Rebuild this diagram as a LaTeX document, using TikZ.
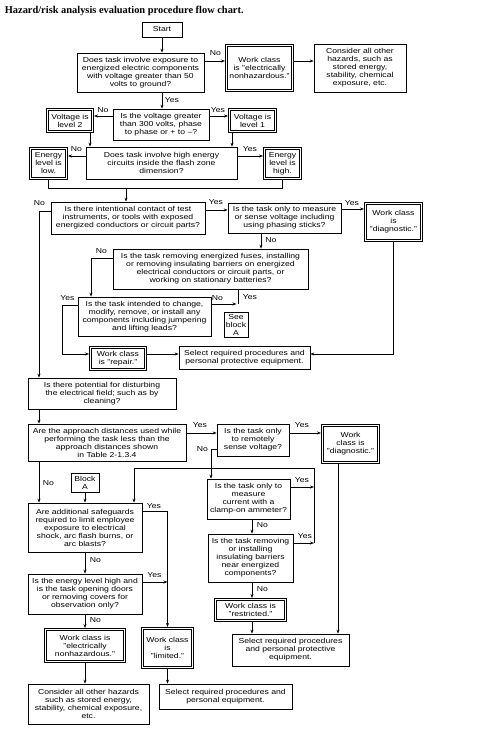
\documentclass[tikz,border=0pt]{standalone}
\usepackage{fontspec}
\setmainfont[FakeStretch=1.2]{Liberation Sans}
\newfontfamily\titlefont{Liberation Serif}
\usetikzlibrary{arrows.meta}

\begin{document}
\begin{tikzpicture}[x=1pt,y=-1pt,>={Stealth[length=4pt,width=3pt]},line width=0.7pt,
  box/.style={draw,inner sep=1pt,align=center,font=\fontsize{7.2}{8}\selectfont},
  dbox/.style={box,double,double distance=1.2pt,outer sep=1.3pt},
  lab/.style={inner sep=0pt,font=\fontsize{7.2}{8}\selectfont}]
\useasboundingbox (0,0) rectangle (491,756);
\node[anchor=west,inner sep=0pt,font={\titlefont\bfseries\fontsize{10.4}{12}\selectfont}] (title) at (4.5,11) {Hazard/risk analysis evaluation procedure flow chart.};

\node[box,minimum width=40,minimum height=15] (start) at (162,29.5) {Start};
\node[box,minimum width=127,minimum height=39] (q1) at (140.5,72.5) {Does task involve exposure to\\energized electric components\\with voltage greater than 50\\volts to ground?};
\node[dbox,minimum width=66.4,minimum height=45.4] (wc1) at (259.5,68) {Work class\\is "electrically\\nonhazardous."};
\node[box,minimum width=92,minimum height=48] (con1) at (360,68) {Consider all other\\hazards, such as\\stored energy,\\stability, chemical\\exposure, etc.};
\node[box,minimum width=96,minimum height=31] (q2) at (161,124.5) {Is the voltage greater\\than 300 volts, phase\\to phase or + to --?};
\node[dbox,minimum width=45.4,minimum height=22.4] (vl2) at (70,120.5) {Voltage is\\level 2};
\node[dbox,minimum width=46.4,minimum height=22.4] (vl1) at (252.5,120.5) {Voltage is\\level 1};
\node[box,minimum width=151,minimum height=32] (q3) at (161.5,163) {Does task involve high energy\\circuits inside the flash zone\\dimension?};
\node[dbox,minimum width=36.4,minimum height=30.4] (el) at (48.5,163.5) {Energy\\level is\\low.};
\node[dbox,minimum width=36.4,minimum height=30.4] (eh) at (282.5,163.5) {Energy\\level is\\high.};
\node[box,minimum width=154,minimum height=32] (q4) at (128,218) {Is there intentional contact of test\\instruments, or tools with exposed\\energized conductors or circuit parts?};
\node[box,minimum width=113,minimum height=30] (q4b) at (284.5,218) {Is the task only to measure\\or sense voltage including\\using phasing sticks?};
\node[dbox,minimum width=56.4,minimum height=37.4] (dg1) at (393.5,222) {Work class\\is\\"diagnostic."};
\node[box,minimum width=195,minimum height=40] (q5) at (210.5,269) {Is the task removing energized fuses, installing\\or removing insulating barriers on energized\\electrical conductors or circuit parts, or\\working on stationary batteries?};
\node[box,minimum width=133,minimum height=39] (q6) at (144.5,316.5) {Is the task intended to change,\\modify, remove, or install any\\components including jumpering\\and lifting leads?};
\node[box,minimum width=24,minimum height=25] (seea) at (236,324.5) {See\\block\\A};
\node[dbox,minimum width=55.4,minimum height=22.4] (wcr) at (118,358.5) {Work class\\is "repair."};
\node[box,minimum width=131,minimum height=23] (sel1) at (244.5,357.5) {Select required procedures and\\personal protective equipment.};
\node[box,minimum width=148,minimum height=31] (q7) at (102,393.5) {Is there potential for disturbing\\the electrical field; such as by\\cleaning?};
\node[box,minimum width=158,minimum height=37] (q8) at (107,442.5) {Are the approach distances used while\\performing the task less than the\\approach distances shown\\in Table 2-1.3.4};
\node[box,minimum width=72,minimum height=32] (q8b) at (253,440) {Is the task only\\to remotely\\sense voltage?};
\node[dbox,minimum width=56.4,minimum height=37.4] (dg2) at (350.5,444) {Work\\class is\\"diagnostic."};
\node[box,minimum width=28,minimum height=19] (blka) at (85,482.5) {Block\\A};
\node[box,minimum width=83,minimum height=40] (q9) at (248.5,499) {Is the task only to\\measure\\current with a\\clamp-on ammeter?};
\node[box,minimum width=85,minimum height=48] (q10) at (250.5,558) {Is the task removing\\or installing\\insulating barriers\\near energized\\components?};
\node[dbox,minimum width=70.4,minimum height=21.4] (wcres) at (250.5,610) {Work class is\\"restricted."};
\node[box,minimum width=117,minimum height=32] (sel2) at (290.5,650) {Select required procedures\\and personal protective\\equipment.};
\node[box,minimum width=114,minimum height=49] (q11) at (85,527.5) {Are additional safeguards\\required to limit employee\\exposure to electrical\\shock, arc flash burns, or\\arc blasts?};
\node[box,minimum width=114,minimum height=40] (q12) at (85,594) {Is the energy level high and\\is the task opening doors\\or removing covers for\\observation only?};
\node[dbox,minimum width=79.4,minimum height=32.4] (wcn2) at (85,645.5) {Work class is\\"electrically\\nonhazardous."};
\node[dbox,minimum width=50.4,minimum height=39.4] (wcl) at (167.5,648) {Work class\\is\\"limited."};
\node[box,minimum width=121,minimum height=40] (con2) at (88.5,704) {Consider all other hazards\\such as stored energy,\\stability, chemical exposure,\\etc.};
\node[box,minimum width=133,minimum height=25] (sel3) at (225.5,696.5) {Select required procedures and\\personal equipment.};

\draw[->] (start.south) -- (start.south |- q1.north);
\draw[->] (q1.east |- 0,61) -- (wc1.west |- 0,61);
\draw[->] (wc1.east |- 0,61) -- (con1.west |- 0,61);
\draw[->] (start.south |- q1.south) -- (start.south |- q2.north);
\draw[->] (q2.west |- 0,116) -- (vl2.east |- 0,116);
\draw[->] (q2.east |- 0,116) -- (vl1.west |- 0,116);
\draw[->] (vl2.south -| 90,0) -- (q3.north -| 90,0);
\draw[->] (vl1.south -| 232,0) -- (q3.north -| 232,0);
\draw[->] (q3.west |- 0,156) -- (el.east |- 0,156);
\draw[->] (q3.east |- 0,156) -- (eh.west |- 0,156);
\coordinate (m1) at (126,188);
\draw (el.south) -- (el.south |- m1) -- (eh.south |- m1) -- (eh.south);
\draw[->] (m1) -- (m1 |- q4.north);
\draw[->] (q4.east |- 0,210) -- (q4b.west |- 0,210);
\draw[->] (q4b.east |- 0,209) -- (dg1.west |- 0,209);
\draw[->] (q4.west |- 0,211) -| (q7.north -| 39,0);
\draw[->] (q4b.south -| 261,0) -- (q5.north -| 261,0);
\draw[->] (q5.west |- 0,258) -| (q6.north -| 91,0);
\coordinate (ja) at (238,304);
\draw (q5.south -| ja) -- (ja);
\draw[->] (q6.east |- ja) -- ([xshift=-1.5]ja);
\draw[->] (q6.west |- 0,305) -- (62,305) |- (wcr.west |- 0,354);
\draw[->] (wcr.east |- 0,354) -- (sel1.west |- 0,354);
\draw[->] (dg1.south) |- (sel1.east |- 0,354);
\draw[->] (q7.south -| 39,0) -- (q8.north -| 39,0);
\draw[->] (q8.east |- 0,433) -- (q8b.west |- 0,433);
\draw[->] (q8b.east |- 0,433) -- (dg2.west |- 0,433);
\draw[->] (q8b.west |- 0,449) -| (q9.north -| 211,0);
\draw[->] (q8.south -| 39,0) -- (q11.north -| 39,0);
\draw[->] (blka.south) -- (q11.north);
\coordinate (jb) at (314,468);
\draw[->] (q9.east |- 0,487) -- (jb |- 0,487);
\draw[->] (q10.east |- 0,543) -- (jb |- 0,543);
\draw[->] (jb |- 0,543) -- (jb) -| (q11.north -| 134,0);
\draw[->] (q9.south -| 252,0) -- (q10.north -| 252,0);
\draw[->] (q10.south -| 252,0) -- (wcres.north -| 252,0);
\draw[->] (wcres.south -| 252,0) -- (sel2.north -| 252,0);
\draw[->] (dg2.south -| 338,0) -- (sel2.north -| 338,0);
\draw[->] (q11.east |- 0,511) -| (wcl.north);
\draw[->] (q12.east |- 0,582) -- (wcl.north |- 0,582);
\draw[->] (q11.south) -- (q12.north);
\draw[->] (q12.south) -- (wcn2.north);
\draw[->] (wcn2.south) -- (wcn2.south |- con2.north);
\draw[->] (wcl.south) -- (wcl.south |- sel3.north);

\node[lab] (n1) at (215.5,53.5) {No};
\node[lab] (y1) at (172,100) {Yes};
\node[lab] (n2) at (103,110) {No};
\node[lab] (y2) at (218,110) {Yes};
\node[lab] (n3) at (76.5,149.5) {No};
\node[lab] (y3) at (250,149.5) {Yes};
\node[lab] (n4) at (39.5,203) {No};
\node[lab] (y4) at (216,202) {Yes};
\node[lab] (y4b) at (352,203) {Yes};
\node[lab] (n4b) at (271,240) {No};
\node[lab] (n5) at (101.5,251.5) {No};
\node[lab] (y5) at (250,297.5) {Yes};
\node[lab] (y6) at (67.5,298.5) {Yes};
\node[lab] (n6) at (217.5,298.5) {No};
\node[lab] (y8) at (200,425.5) {Yes};
\node[lab] (y8b) at (302,425.5) {Yes};
\node[lab] (n8b) at (202.5,449) {No};
\node[lab] (n8) at (48.5,483) {No};
\node[lab] (y9) at (302,480.5) {Yes};
\node[lab] (n9) at (262.5,525) {No};
\node[lab] (y10) at (305,536.5) {Yes};
\node[lab] (n10) at (262.5,589) {No};
\node[lab] (y11) at (154,506) {Yes};
\node[lab] (n11) at (95.5,560) {No};
\node[lab] (y12) at (154.5,575) {Yes};
\node[lab] (n12) at (95.5,620) {No};
\end{tikzpicture}
\end{document}
